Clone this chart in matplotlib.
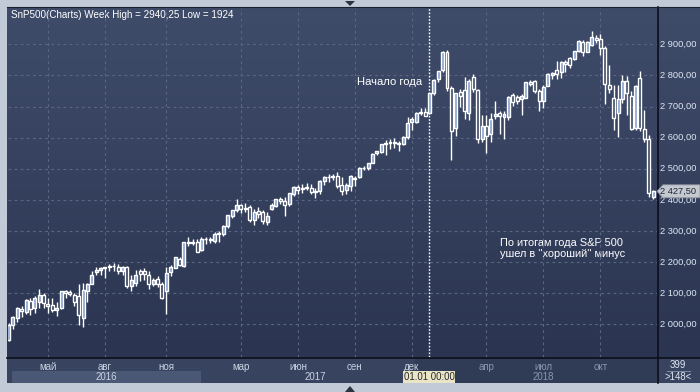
import matplotlib
matplotlib.use("Agg")
import matplotlib.pyplot as plt
import numpy as np
from matplotlib.patches import Rectangle, Polygon
from matplotlib.colors import LinearSegmentedColormap

# ---------------- data (weekly bars, week of 2016-02-29 .. 2018-12-24) -------------
opens = [1950, 1998, 2021, 2048, 2041, 2075, 2051, 2072, 2095, 2066,
         2063, 2046, 2052, 2106, 2104, 2095, 2091, 2021, 2107, 2130,
         2168, 2173, 2180, 2185, 2189, 2185, 2171, 2185, 2123, 2133,
         2171, 2170, 2160, 2128, 2146, 2128, 2107, 2168, 2182, 2211,
         2189, 2265, 2262, 2265, 2238, 2275, 2274, 2267, 2290, 2291,
         2315, 2349, 2366, 2383, 2371, 2377, 2334, 2364, 2360, 2330,
         2371, 2381, 2403, 2397, 2387, 2420, 2441, 2435, 2440, 2437,
         2429, 2427, 2460, 2474, 2474, 2477, 2448, 2433, 2446, 2471,
         2473, 2502, 2504, 2520, 2550, 2555, 2580, 2583, 2585, 2580,
         2580, 2603, 2651, 2651, 2683, 2683, 2678, 2742, 2790, 2817,
         2876, 2759, 2630, 2746, 2753, 2680, 2794, 2753, 2595, 2637,
         2611, 2670, 2678, 2665, 2667, 2737, 2732, 2724, 2728, 2778,
         2782, 2751, 2719, 2766, 2800, 2817, 2812, 2842, 2857, 2853,
         2878, 2906, 2876, 2899, 2921, 2918, 2889, 2769, 2727, 2678,
         2723, 2782, 2733, 2632, 2793, 2627, 2595, 2410]
highs = [2003, 2026, 2055, 2059, 2080, 2085, 2090, 2114, 2101, 2085,
         2085, 2072, 2108, 2109, 2109, 2101, 2128, 2133, 2134, 2170,
         2183, 2183, 2185, 2195, 2198, 2195, 2188, 2188, 2160, 2176,
         2177, 2180, 2171, 2150, 2155, 2135, 2185, 2190, 2217, 2216,
         2265, 2281, 2275, 2274, 2282, 2281, 2280, 2297, 2300, 2318,
         2352, 2368, 2403, 2387, 2390, 2382, 2370, 2376, 2367, 2362,
         2390, 2404, 2408, 2408, 2423, 2443, 2449, 2450, 2454, 2452,
         2438, 2465, 2478, 2484, 2482, 2490, 2475, 2455, 2480, 2476,
         2505, 2510, 2520, 2552, 2558, 2580, 2593, 2596, 2598, 2590,
         2605, 2665, 2665, 2682, 2696, 2695, 2744, 2788, 2815, 2880,
         2882, 2765, 2745, 2756, 2795, 2790, 2803, 2755, 2672, 2673,
         2680, 2718, 2685, 2685, 2735, 2742, 2737, 2741, 2780, 2784,
         2786, 2755, 2768, 2808, 2812, 2845, 2845, 2848, 2860, 2878,
         2913, 2913, 2912, 2942, 2930, 2934, 2895, 2832, 2769, 2769,
         2800, 2797, 2750, 2770, 2813, 2688, 2608, 2432]
lows = [1945, 1984, 2007, 2024, 2032, 2030, 2036, 2053, 2051, 2035,
        2038, 2027, 2050, 2083, 2091, 2060, 1997, 1991, 2073, 2128,
        2159, 2160, 2150, 2172, 2172, 2161, 2160, 2118, 2106, 2124,
        2138, 2144, 2113, 2122, 2120, 2082, 2032, 2155, 2180, 2186,
        2184, 2252, 2255, 2232, 2235, 2258, 2260, 2260, 2266, 2285,
        2310, 2343, 2360, 2357, 2360, 2330, 2320, 2343, 2323, 2319,
        2368, 2378, 2386, 2347, 2380, 2413, 2418, 2421, 2431, 2418,
        2407, 2418, 2448, 2459, 2464, 2437, 2415, 2418, 2428, 2446,
        2470, 2495, 2496, 2518, 2543, 2550, 2545, 2562, 2567, 2557,
        2575, 2597, 2624, 2648, 2672, 2670, 2676, 2736, 2780, 2812,
        2750, 2528, 2604, 2700, 2660, 2658, 2748, 2583, 2585, 2552,
        2586, 2660, 2612, 2597, 2656, 2701, 2707, 2673, 2726, 2766,
        2745, 2687, 2694, 2766, 2790, 2787, 2793, 2810, 2825, 2850,
        2876, 2862, 2874, 2896, 2905, 2867, 2708, 2744, 2625, 2603,
        2710, 2673, 2623, 2625, 2621, 2585, 2408, 2403]
closes = [1998, 2024, 2051, 2044, 2077, 2048, 2083, 2095, 2069, 2059,
          2046, 2054, 2106, 2101, 2098, 2072, 2029, 2109, 2131, 2157,
          2176, 2180, 2183, 2189, 2186, 2171, 2185, 2123, 2141, 2160,
          2162, 2162, 2131, 2142, 2131, 2085, 2165, 2185, 2217, 2192,
          2265, 2262, 2265, 2234, 2275, 2274, 2272, 2291, 2293, 2317,
          2351, 2368, 2384, 2371, 2375, 2334, 2361, 2356, 2331, 2349,
          2384, 2403, 2395, 2385, 2422, 2441, 2433, 2438, 2438, 2425,
          2426, 2462, 2474, 2473, 2477, 2445, 2427, 2447, 2477, 2466,
          2504, 2504, 2520, 2547, 2557, 2580, 2580, 2585, 2583, 2583,
          2603, 2646, 2659, 2680, 2680, 2670, 2742, 2786, 2815, 2875,
          2759, 2620, 2742, 2734, 2686, 2783, 2755, 2595, 2637, 2605,
          2659, 2676, 2670, 2675, 2732, 2713, 2718, 2735, 2778, 2772,
          2750, 2719, 2763, 2805, 2808, 2803, 2842, 2836, 2834, 2878,
          2911, 2875, 2908, 2925, 2914, 2889, 2771, 2756, 2662, 2724,
          2782, 2742, 2627, 2766, 2632, 2595, 2422, 2427.5]

month_labels = ["май", "авг", "ноя", "мар", "июн", "сен", "дек", "апр", "июл", "окт"]
month_bars = [9, 22, 36, 53, 66, 79, 92, 109, 122, 135]     # first weekly bar of the month
year_labels = ["2016", "2017", "2018"]
price_ticks = [2000, 2100, 2200, 2300, 2400, 2500, 2600, 2700, 2800, 2900]
last_price = 2427.50
title_text = "SnP500(Charts) Week High = 2940,25 Low = 1924"
note1 = "Начало года"
note2 = "По итогам года S&P 500\nушел в ''хороший'' минус"

# ---------------- layout -------------------------------------------------------------
W, H = 700, 392
fig = plt.figure(figsize=(W / 100, H / 100), dpi=100)
fig.patch.set_facecolor('#c2cad7')

bg = fig.add_axes([0, 0, 1, 1])
bg.set_xlim(0, W)
bg.set_ylim(H, 0)
bg.axis('off')

cmap = LinearSegmentedColormap.from_list('bgc', ['#3f4c69', '#2b3552'])
grad = np.linspace(0, 1, 256).reshape(-1, 1)
bg.imshow(grad, cmap=cmap, extent=[7, 700, 357, 7], aspect='auto', zorder=0)
# bottom time-axis strip
bg.add_patch(Rectangle((7, 357), 693, 26, facecolor='#38445f', edgecolor='none', zorder=1))
bg.add_patch(Rectangle((12, 371), 189, 12, facecolor='#4a5875', edgecolor='none', zorder=1))
bg.add_patch(Rectangle((415, 358), 242, 25, facecolor='#303b56', edgecolor='none', zorder=1))
# separators
bg.plot([7, 700], [357.5, 357.5], color='#0c0f18', lw=1.2, zorder=5)
bg.plot([657.5, 657.5], [7, 383], color='#0c0f18', lw=1.2, zorder=5)
bg.plot([7, 700], [7, 7], color='#1a2030', lw=0.8, zorder=5)
# small triangles
bg.add_patch(Polygon([[345, 1], [355, 1], [350, 6]], closed=True, facecolor='#2c3340', edgecolor='none', zorder=6))
bg.add_patch(Polygon([[345, 392], [355, 392], [350, 386]], closed=True, facecolor='#2c3340', edgecolor='none', zorder=6))

# ---------------- main axes ----------------------------------------------------------
x0_px, x1_px = 8, 657
y0_px, y1_px = 8, 357
ax = fig.add_axes([x0_px / W, 1 - y1_px / H, (x1_px - x0_px) / W, (y1_px - y0_px) / H])
ax.patch.set_alpha(0)
step = 4.385
ax.set_xlim((x0_px - 8.5) / step, (x1_px - 8.5) / step)
ppp = 0.3111  # pixels per point
ax.set_ylim(2000 - (y1_px - 324.3) / ppp, 2000 + (324.3 - y0_px) / ppp)
ax.axis('off')

for p in price_ticks:
    ax.axhline(p, color='#5a6683', lw=0.8, ls=(0, (2.5, 3)), zorder=1)
for b in month_bars:
    ax.axvline(b, color='#5a6683', lw=0.8, ls=(0, (2.5, 3)), zorder=1)
ax.axvline(96, color='white', lw=1.0, ls=(0, (1.2, 1.2)), zorder=2)

n = len(closes)
bw = 0.68
for i in range(n):
    o, h, l, c = opens[i], highs[i], lows[i], closes[i]
    top, bot = max(o, c), min(o, c)
    ax.plot([i, i], [top, h], color='white', lw=1.0, solid_capstyle='butt', zorder=3)
    ax.plot([i, i], [l, bot], color='white', lw=1.0, solid_capstyle='butt', zorder=3)
    bull = c > o
    hgt = max(top - bot, 1.5)
    ax.add_patch(Rectangle((i - bw / 2, bot), bw, hgt,
                           facecolor='#86a2cf' if bull else 'none',
                           edgecolor='white', lw=1.0, zorder=4))

# ---------------- texts --------------------------------------------------------------
fam = ['Liberation Sans', 'DejaVu Sans']
bg.text(11, 15, title_text, color='white', fontsize=7.1, va='center', ha='left', family=fam, zorder=7)
bg.text(357, 82, note1, color='white', fontsize=8.1, va='center', ha='left', family=fam, zorder=7)
bg.text(500, 248.5, note2, color='white', fontsize=7.9, va='center', ha='left',
        family=fam, linespacing=1.15, zorder=7)

def py(p):
    return 324.3 - (p - 2000) * ppp

for p in price_ticks:
    lab = f"{p // 1000} {p % 1000:03d},00"
    bg.text(660, py(p), lab, color='#dfe7f3', fontsize=6.7, va='center', ha='left', family=fam, zorder=7)

yp = py(last_price)
bg.add_patch(Polygon([[657, yp], [663, yp - 6.5], [700, yp - 6.5], [700, yp + 6.5], [663, yp + 6.5]],
                     closed=True, facecolor='#c4c8cf', edgecolor='#8a909c', lw=0.6, zorder=7))
bg.text(660.5, yp, "2 427,50", color='#20283a', fontsize=6.7, va='center', ha='left', family=fam, zorder=8)

def bx(b):
    return 8.5 + step * b

for lab, b in zip(month_labels, month_bars):
    col = '#c9d3e3' if b < 96 else '#8a96ad'
    bg.text(bx(b), 366.5, lab, color=col, fontsize=7.0, ha='center', va='center', family=fam, zorder=7)

year_centers = [(12 + 201) / 2, (201 + 430) / 2, (430 + 657) / 2]
for lab, xc in zip(year_labels, year_centers):
    col = '#c9d3e3' if lab != "2018" else '#8a96ad'
    bg.text(xc, 377.5, lab, color=col, fontsize=7.0, ha='center', va='center', family=fam, zorder=7)

# tooltip at Jan 1 2018
bg.add_patch(Rectangle((403, 371), 52, 12, facecolor='#e9e5c6', edgecolor='none', zorder=8))
bg.text(429, 377.5, "01.01 00:00", color='#2a2a2a', fontsize=6.9, ha='center', va='center', family=fam, zorder=9)

# bottom-right info
bg.text(678, 364.5, "399", color='#dfe7f3', fontsize=6.9, ha='center', va='center', family=fam, zorder=7)
bg.plot([667, 690], [370.5, 370.5], color='#8a96ad', lw=0.6, zorder=7)
bg.text(678, 376.5, ">148<", color='#dfe7f3', fontsize=6.9, ha='center', va='center', family=fam, zorder=7)

fig.savefig("out.png", dpi=100, facecolor=fig.get_facecolor())
